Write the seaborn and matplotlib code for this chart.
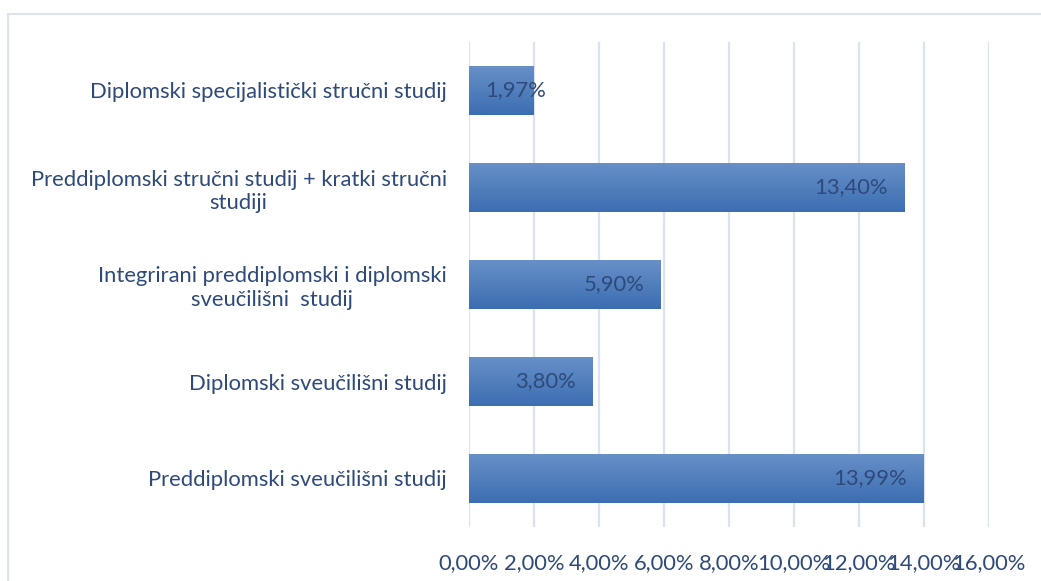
import numpy as np
import pandas as pd
import matplotlib
matplotlib.use('Agg')
import matplotlib.pyplot as plt
import matplotlib.patches as mpatches
import seaborn as sns

categories = [
    'Diplomski specijalistički stručni studij',
    'Preddiplomski stručni studij + kratki stručni\nstudiji',
    'Integrirani preddiplomski i diplomski\nsveučilišni  studij',
    'Diplomski sveučilišni studij',
    'Preddiplomski sveučilišni studij',
]
values = [1.97, 13.40, 5.90, 3.80, 13.99]
xticks = [0, 2, 4, 6, 8, 10, 12, 14, 16]

df = pd.DataFrame({'studij': categories, 'udio': values})

sns.set_style('white')
plt.rcParams['font.family'] = ['Lato', 'DejaVu Sans']
txt = '#2E4A7A'
grid = '#D9E3F1'
fs = 15.8

fig = plt.figure(figsize=(10.41, 5.81), dpi=100)
ax = fig.add_axes([469 / 1041, 1 - 527 / 581, 520 / 1041, 485 / 581])

sns.barplot(data=df, x='udio', y='studij', orient='h', color='#4F81BD',
            width=0.51, ax=ax, zorder=2)
ax.set_xlim(0, 16)
ax.set_ylim(4.5, -0.5)

# gradient fill like the Excel bars
top_c = np.array([104, 144, 200]) / 255
bot_c = np.array([60, 110, 178]) / 255
grad = np.linspace(0, 1, 64)[:, None, None]
img = top_c * (1 - grad) + bot_c * grad
for p in ax.patches:
    x0, y0, w, h = p.get_x(), p.get_y(), p.get_width(), p.get_height()
    p.set_edgecolor('none')
    im = ax.imshow(img, extent=(x0, x0 + w, y0 + h, y0), origin='upper',
                   aspect='auto', zorder=3)
    im.set_clip_path(p)
ax.set_xlim(0, 16)
ax.set_ylim(4.5, -0.5)

# value labels
for i, v in enumerate(values):
    lab = f'{v:.2f}'.replace('.', ',') + '%'
    if v < 3:
        ax.annotate(lab, (0, i), xytext=(12, 0), textcoords='offset points',
                    ha='left', va='center', color=txt, fontsize=fs, zorder=5)
    else:
        ax.annotate(lab, (v, i), xytext=(-12, 0), textcoords='offset points',
                    ha='right', va='center', color=txt, fontsize=fs, zorder=5)

ax.set_xticks(xticks)
ax.set_xticklabels([f'{t:.2f}'.replace('.', ',') + '%' for t in xticks])
ax.grid(axis='x', color=grid, linewidth=1.6, zorder=0)
ax.grid(axis='y', visible=False)
for s in ax.spines.values():
    s.set_visible(False)
ax.tick_params(axis='x', length=0, pad=19, labelsize=fs, labelcolor=txt)
ax.tick_params(axis='y', length=0, pad=16, labelsize=fs, labelcolor=txt)
for t in ax.get_yticklabels():
    t.set_multialignment('center')
ax.set_xlabel('')
ax.set_ylabel('')

# outer chart frame
fig.patches.append(mpatches.Rectangle((8 / 1041, -0.05), 1.1, 1 - 14 / 581 + 0.05,
                                      transform=fig.transFigure, fill=False,
                                      edgecolor=grid, linewidth=1.5))

fig.savefig('out.png', dpi=100)
